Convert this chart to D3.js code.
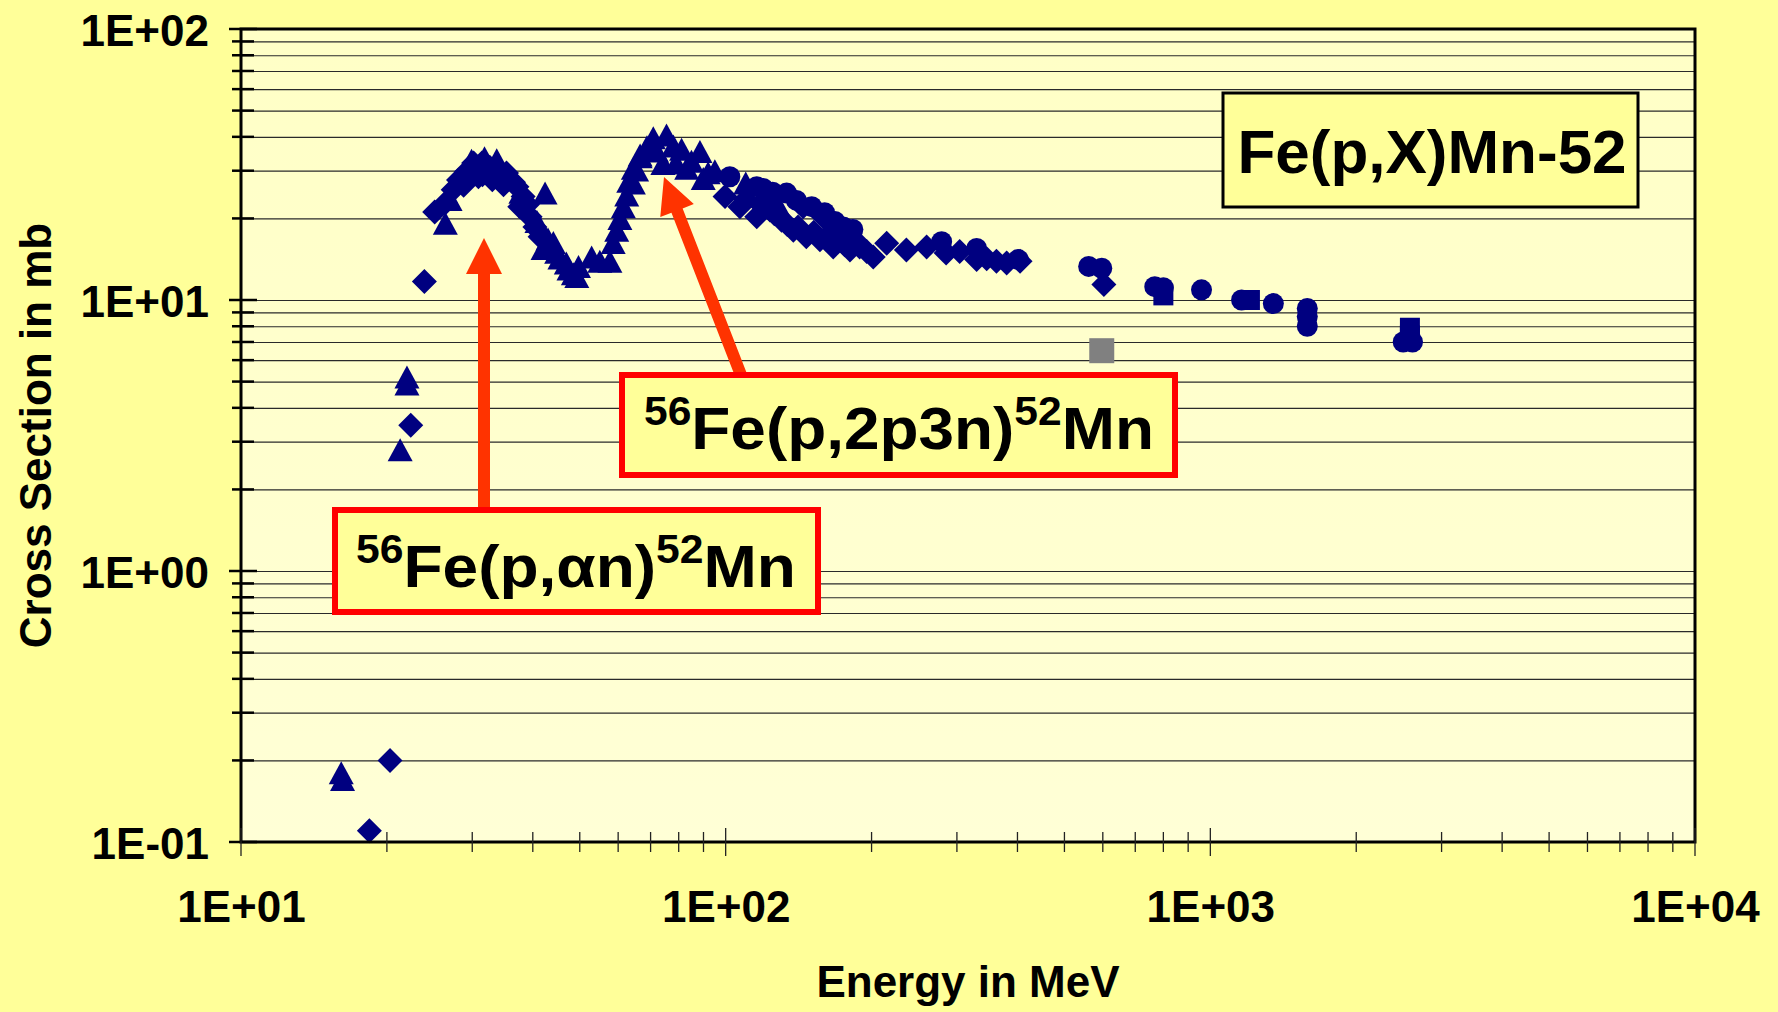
<!DOCTYPE html>
<html>
<head>
<meta charset="utf-8">
<script src="https://cdn.jsdelivr.net/npm/d3@7"></script>
<style>
  body { margin: 0; background: #ffff99; }
  svg { display: block; font-family: 'Liberation Sans', Arial, sans-serif; font-weight: bold; }
</style>
</head>
<body>
<svg id="chart"></svg>
<script>
// energy (MeV), cross section (mb)
const diamonds = [
  [18.4, 0.11], [20.3, 0.20], [22.4, 3.45], [23.9, 11.7], [25.1, 21.1], [26.4, 22.8],
  [27.4, 25.5], [28.1, 27.7], [28.8, 26.5], [29.2, 29.8], [30.2, 32.0], [30.9, 28.5],
  [31.4, 32.0], [31.5, 29.0], [32.6, 30.9], [33.0, 27.8], [33.5, 30.0], [34.8, 26.6],
  [35.3, 29.4], [36.5, 27.2], [37.1, 26.2], [38.2, 24.1], [37.6, 22.1], [39.0, 22.5],
  [39.5, 20.3], [40.4, 18.6], [41.4, 17.1], [99.7, 24.1], [107, 22.1], [110, 23.5],
  [115.9, 20.3], [118, 22.5], [123.4, 21.5], [126, 20.8], [130.4, 19.7], [134, 19.0],
  [137.9, 18.1], [141, 18.6], [144.5, 22.1], [146.7, 17.1], [152, 17.8], [156.5, 16.7],
  [159, 20.3], [162, 17.2], [166.7, 15.7], [170, 16.5], [176, 16.0], [180.5, 15.3],
  [185, 16.6], [189, 15.7], [195.4, 15.1], [201.6, 14.4], [214.9, 16.2], [236, 15.3],
  [259.8, 15.7], [285, 14.9], [304, 15.1], [329.5, 14.1], [345.6, 14.2], [362, 13.9],
  [380, 13.7], [405, 13.9], [603, 11.4]
];
const triangles = [
  [16.1, 0.18], [16.2, 0.17], [21.3, 2.8], [22.0, 5.2], [22.0, 4.9], [26.4, 19.2],
  [27.0, 23.5], [29.9, 32.8], [30.5, 30.5], [31.8, 33.5], [33.7, 32.9], [36.0, 28.0],
  [37.8, 25.0], [40.8, 19.5], [42.4, 24.8], [42.0, 15.5], [43.0, 16.8], [44.1, 16.3],
  [44.8, 15.0], [45.5, 14.3], [46.9, 13.7], [47.5, 13.0], [48.5, 12.5], [49.7, 13.3],
  [49.3, 12.2], [52.9, 14.4], [55.0, 13.9], [57.7, 13.9], [58.6, 16.3], [59.6, 18.1],
  [60.5, 20.0], [61.5, 22.1], [62.5, 24.4], [63.1, 27.4], [64.5, 27.0], [64.5, 30.6],
  [65.5, 30.2], [66.6, 33.8], [66.6, 34.3], [68.8, 36.8], [70.9, 39.7], [72.0, 35.5],
  [74.2, 31.9], [75.5, 40.6], [78.0, 37.0], [79.0, 32.0], [81.1, 36.0], [83.1, 30.6],
  [85.0, 32.5], [88.5, 35.3], [89.9, 28.1], [92.0, 29.5], [95.0, 30.0], [110, 27.0],
  [128, 22.5]
];
const circles = [
  [102, 28.5], [115.9, 26.2], [119.5, 25.8], [125, 25.0], [133.6, 24.8], [140, 23.3],
  [150.5, 22.1], [160, 21.0], [168, 19.5], [174.8, 18.6], [183, 18.2], [279, 16.4],
  [329.5, 15.5], [401.6, 14.1], [561, 13.3], [597, 13.1], [768, 11.2], [800, 11.1],
  [959, 10.9], [1160, 10.0], [1349, 9.7], [1585, 9.3], [1585, 8.7], [1585, 8.0],
  [2500, 7.0], [2613, 7.0]
];
const squares = [[800, 10.4], [1207, 10.0], [2581, 7.9], [2581, 7.4]];
const grayPoints = [[597, 6.5]];

const xTickVals = [10, 100, 1000, 10000];
const yTickVals = [0.1, 1, 10, 100];
const fmtExp = v => {
  const e = Math.round(Math.log10(v));
  return '1E' + (e < 0 ? '-' : '+') + String(Math.abs(e)).padStart(2, '0');
};

const width = 1778, height = 1012;
const plot = { left: 241, right: 1695, top: 29, bottom: 842 };

const svg = d3.select('#chart').attr('width', width).attr('height', height);

svg.append('rect').attr('width', width).attr('height', height).attr('fill', '#ffff99');

const defs = svg.append('defs');
const grad = defs.append('linearGradient').attr('id', 'plotbg')
  .attr('x1', 0).attr('y1', 0).attr('x2', 0).attr('y2', 1);
grad.append('stop').attr('offset', '0%').attr('stop-color', '#ffffc6');
grad.append('stop').attr('offset', '100%').attr('stop-color', '#ffffd6');

const x = d3.scaleLog().domain([10, 10000]).range([plot.left, plot.right]);
const y = d3.scaleLog().domain([0.1, 100]).range([plot.bottom, plot.top]);

// plot area
svg.append('rect')
  .attr('x', plot.left).attr('y', plot.top)
  .attr('width', plot.right - plot.left).attr('height', plot.bottom - plot.top)
  .attr('fill', 'url(#plotbg)');

// horizontal gridlines (every minor value)
svg.append('g')
  .attr('transform', `translate(${plot.left}, 0)`)
  .call(d3.axisRight(y).tickSizeInner(plot.right - plot.left).tickSizeOuter(0).tickFormat(''))
  .call(g => g.select('.domain').remove())
  .call(g => g.selectAll('line').attr('stroke', '#2a2a2a').attr('stroke-width', 1.2));

// markers
const navy = '#000080';
function shapePath(shape, s) {
  const p = d3.path();
  const h = s / 2;
  if (shape === 'diamond') {
    p.moveTo(0, -h); p.lineTo(h, 0); p.lineTo(0, h); p.lineTo(-h, 0); p.closePath();
  } else if (shape === 'triangle') {
    const th = s * 0.92 / 2;
    p.moveTo(0, -th); p.lineTo(h, th); p.lineTo(-h, th); p.closePath();
  } else if (shape === 'circle') {
    p.arc(0, 0, h, 0, Math.PI * 2);
  } else {
    p.rect(-h, -h, s, s);
  }
  return p.toString();
}

const series = [
  { data: diamonds, shape: 'diamond', size: 25, color: navy },
  { data: triangles, shape: 'triangle', size: 25, color: navy },
  { data: circles, shape: 'circle', size: 21, color: navy },
  { data: squares, shape: 'square', size: 20, color: navy },
  { data: grayPoints, shape: 'square', size: 25, color: '#808080' }
];

const gMarks = svg.append('g');
series.forEach(s => {
  gMarks.append('g').selectAll('path')
    .data(s.data)
    .enter().append('path')
      .attr('d', shapePath(s.shape, s.size))
      .attr('transform', d => `translate(${x(d[0])}, ${y(d[1])})`)
      .attr('fill', s.color);
});

// frame
svg.append('rect')
  .attr('x', plot.left).attr('y', plot.top)
  .attr('width', plot.right - plot.left).attr('height', plot.bottom - plot.top)
  .attr('fill', 'none').attr('stroke', '#000').attr('stroke-width', 3);

// y ticks
const isMajor = v => Math.abs(Math.log10(v) - Math.round(Math.log10(v))) < 1e-9;
svg.append('g').selectAll('line')
  .data(y.ticks())
  .enter().append('line')
    .attr('x1', d => plot.left - (isMajor(d) ? 12 : 9))
    .attr('x2', d => plot.left + (isMajor(d) ? 16 : 13))
    .attr('y1', d => y(d)).attr('y2', d => y(d))
    .attr('stroke', '#000').attr('stroke-width', 2.5);

// x ticks
svg.append('g').selectAll('line')
  .data(x.ticks())
  .enter().append('line')
    .attr('x1', d => x(d)).attr('x2', d => x(d))
    .attr('y1', d => plot.bottom - (isMajor(d) ? 14 : 10))
    .attr('y2', d => plot.bottom + (isMajor(d) ? 14 : 10))
    .attr('stroke', '#222').attr('stroke-width', 1.3);

// tick labels
svg.append('g')
  .attr('transform', `translate(0, ${plot.bottom})`)
  .call(d3.axisBottom(x).tickValues(xTickVals).tickFormat(fmtExp).tickSize(0))
  .call(g => g.select('.domain').remove())
  .call(g => g.selectAll('text')
    .attr('y', 80).attr('dy', 0)
    .attr('font-size', 44).attr('font-weight', 'bold')
    .attr('font-family', "'Liberation Sans', Arial, sans-serif")
    .attr('fill', '#000'));

svg.append('g')
  .attr('transform', `translate(${plot.left}, 0)`)
  .call(d3.axisLeft(y).tickValues(yTickVals).tickFormat(fmtExp).tickSize(0))
  .call(g => g.select('.domain').remove())
  .call(g => g.selectAll('text')
    .attr('x', -32).attr('dy', 16)
    .attr('font-size', 44).attr('font-weight', 'bold')
    .attr('font-family', "'Liberation Sans', Arial, sans-serif")
    .attr('fill', '#000'));

// axis titles
svg.append('text')
  .attr('x', (plot.left + plot.right) / 2).attr('y', 997)
  .attr('text-anchor', 'middle').attr('font-size', 44)
  .text('Energy in MeV');
svg.append('text')
  .attr('transform', `translate(51, ${(plot.top + plot.bottom) / 2}) rotate(-90)`)
  .attr('text-anchor', 'middle').attr('font-size', 44)
  .text('Cross Section in mb');

// arrows
function arrow(x0, y0, x1, y1) {
  const dx = x1 - x0, dy = y1 - y0, len = Math.hypot(dx, dy);
  const ux = dx / len, uy = dy / len, nx = -uy, ny = ux;
  const sw = 6, hw = 18, hl = 36;
  const bx = x1 - ux * hl, by = y1 - uy * hl;
  const pts = [
    [x0 + nx * sw, y0 + ny * sw], [bx + nx * sw, by + ny * sw], [bx + nx * hw, by + ny * hw],
    [x1, y1], [bx - nx * hw, by - ny * hw], [bx - nx * sw, by - ny * sw], [x0 - nx * sw, y0 - ny * sw]
  ];
  svg.append('polygon').attr('points', pts.map(p => p.join(',')).join(' ')).attr('fill', '#ff3300');
}
arrow(484, 510, 484, 238);
arrow(741, 375, 664, 177);

// annotation boxes
function fitWidth(text, x0, w) {
  const bw = text.node().getBBox().width;
  const k = w / bw;
  text.attr('transform', `translate(${x0},0) scale(${k},1) translate(${-x0},0)`);
}

function reactionBox(bx, by, bw, bh, tx, ty, tw, parts) {
  svg.append('rect')
    .attr('x', bx).attr('y', by).attr('width', bw).attr('height', bh)
    .attr('fill', '#ffff99').attr('stroke', '#ff0000').attr('stroke-width', 6);
  const t = svg.append('text').attr('x', tx).attr('y', ty);
  parts.forEach(([str, sup]) => {
    t.append('tspan')
      .attr('font-size', sup ? 40 : 60)
      .attr('dy', sup ? -24 : 24)
      .text(str);
  });
  t.select('tspan').attr('dy', -24);
  fitWidth(t, tx, tw);
}
reactionBox(622, 375, 553, 100, 644, 449, 510,
  [['56', true], ['Fe(p,2p3n)', false], ['52', true], ['Mn', false]]);
reactionBox(335, 510, 483, 102, 356, 587, 440,
  [['56', true], ['Fe(p,\u03b1n)', false], ['52', true], ['Mn', false]]);

// title box
svg.append('rect')
  .attr('x', 1223).attr('y', 93).attr('width', 415).attr('height', 114)
  .attr('fill', '#ffff99').attr('stroke', '#000').attr('stroke-width', 3);
svg.append('text')
  .attr('x', 1432).attr('y', 173)
  .attr('text-anchor', 'middle').attr('font-size', 62)
  .text('Fe(p,X)Mn-52');
</script>
</body>
</html>
